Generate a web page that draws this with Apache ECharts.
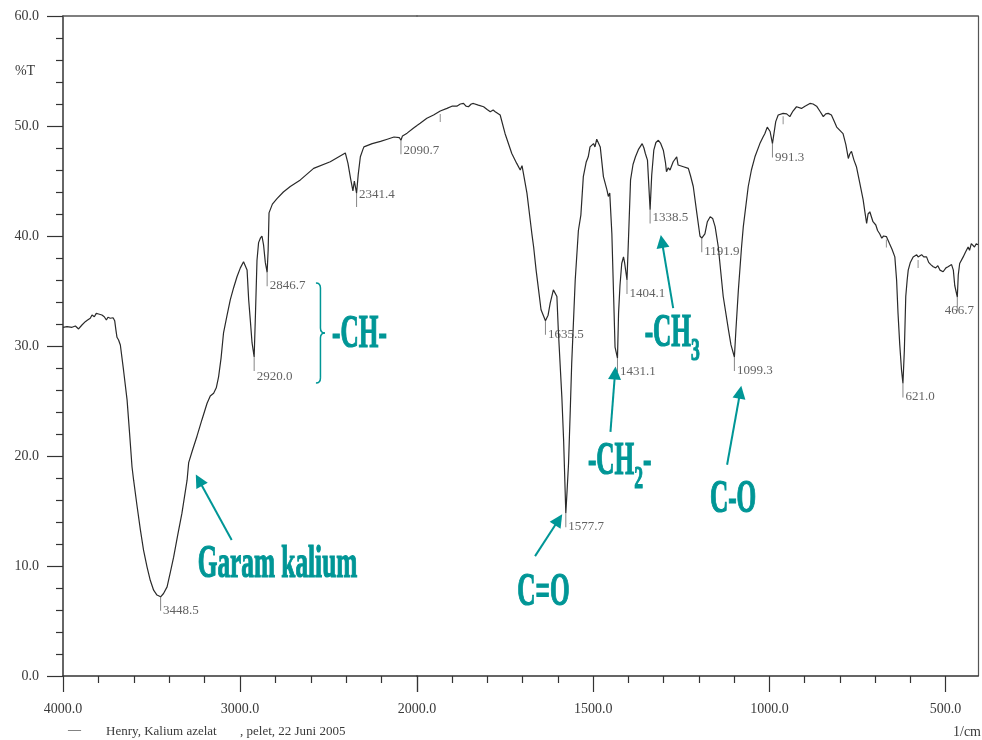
<!DOCTYPE html>
<html>
<head>
<meta charset="utf-8">
<script src="https://cdn.jsdelivr.net/npm/echarts@6/dist/echarts.min.js"></script>
<style>
  html, body { margin: 0; padding: 0; background: #ffffff; }
  #chart { width: 982px; height: 740px; }
</style>
</head>
<body>
<div id="chart"></div>
<script>
// IR spectrum of potassium azelate (KBr pellet). Wavenumbers in 1/cm, transmittance in %T.
// The instrument changes its abscissa scale at 2000 1/cm, so the trace is split in two panels.

// 4000 - 2000 1/cm
const wnHigh = [4000, 3977, 3949, 3930, 3912, 3893, 3874, 3861, 3846, 3836, 3823, 3812, 3799, 3789, 3780,
  3767, 3755, 3746, 3733, 3717, 3708, 3701, 3695, 3686, 3676, 3658, 3638, 3624, 3610, 3601, 3582, 3563,
  3545, 3525, 3507, 3488, 3469, 3448.5, 3432, 3412, 3394, 3375, 3352, 3328, 3299, 3290, 3269, 3243, 3215,
  3186, 3168, 3149, 3134, 3121, 3107, 3093, 3073, 3055, 3036, 3017, 2998, 2980, 2970, 2960, 2951, 2942,
  2932, 2920, 2913, 2904, 2895, 2885, 2876, 2867, 2857, 2846.7, 2841, 2836, 2817, 2791, 2755, 2716, 2659,
  2584, 2490, 2405, 2400, 2390, 2375, 2362, 2354, 2341.4, 2332, 2320, 2305, 2300, 2253, 2206, 2168, 2130,
  2100, 2090.7, 2082, 2056, 2021, 2000];
const tHigh = [31.7, 31.76, 31.7, 31.82, 31.55, 31.91, 32.21, 32.36, 32.52, 32.82, 32.66, 32.97, 32.91, 33.03, 32.82,
  32.66, 32.36, 32.61, 32.52, 32.57, 32.3, 31.45, 30.79, 30.55, 30.09, 27.8, 25.1, 22.1, 19.0, 17.8, 15.5, 13.3,
  11.45, 9.9, 8.7, 7.8, 7.36, 7.2, 7.5, 8.1, 9.4, 10.8, 12.8, 14.8, 17.8, 19.4, 20.5, 21.8, 23.3,
  24.8, 25.45, 25.7, 26.2, 27.2, 28.9, 31.2, 32.8, 34.2, 35.3, 36.3, 37.1, 37.66, 37.5, 36.9, 34.2, 32.4,
  30.3, 29.0, 32.7, 37.8, 39.4, 39.8, 40.0, 39.2, 37.6, 36.7, 38.7, 42.1, 42.9, 43.4, 44.0, 44.5, 45.1,
  46.15, 46.75, 47.55, 47.6, 46.6, 45.2, 44.1, 45.0, 43.9, 45.6, 47.2, 47.9, 48.1, 48.4, 48.6, 48.8, 49.0,
  48.95, 48.7, 49.1, 49.35, 49.8, 50.05];

// 2000 - 408 1/cm
const wnLow = [2000, 1991, 1972, 1953, 1934, 1915, 1901, 1887, 1877, 1868, 1861, 1854, 1846, 1840, 1826,
  1811, 1801, 1792, 1784, 1778, 1764, 1750, 1731, 1717, 1707, 1702, 1698, 1688, 1674, 1669, 1662, 1655,
  1648, 1635.5, 1628, 1622, 1613, 1608, 1603, 1599, 1589, 1584, 1577.7, 1574, 1570, 1565, 1561, 1551,
  1542, 1535, 1528, 1520, 1514, 1509, 1504, 1499, 1495, 1490, 1480, 1471, 1461, 1457, 1453, 1447, 1442,
  1438, 1431.1, 1428, 1424, 1419, 1414, 1411, 1404.1, 1399, 1394, 1387, 1380, 1371, 1361, 1356, 1352,
  1346, 1338.5, 1334, 1328, 1322, 1315, 1309, 1301, 1295, 1292, 1287, 1282, 1273, 1263, 1259, 1254,
  1244, 1230, 1224, 1216, 1206, 1197, 1191.9, 1187, 1183, 1176, 1168, 1161, 1154, 1145, 1131, 1116,
  1109, 1099.3, 1095, 1088, 1079, 1074, 1060, 1051, 1041, 1027, 1018, 1013, 1006, 998, 991.3, 982,
  975, 961, 951, 942, 933, 923, 909, 899, 885, 876, 866, 857, 847, 840, 833, 824, 817, 809, 800, 791,
  783, 776, 772, 767, 760, 753, 744, 734, 729, 724, 720, 715, 711, 706, 698, 693, 687, 681, 676, 668,
  663, 659, 652, 644, 639, 635, 630, 625, 621, 617, 613, 609, 606, 600, 592, 582, 578, 568, 562, 554,
  548, 542, 535, 528, 522, 516, 507, 499, 493, 483, 478, 474, 466.7, 464, 460, 450, 444, 436, 432, 427,
  422, 418, 413, 408];
const tLow = [50.05, 50.25, 50.7, 51.0, 51.36, 51.6, 51.8, 51.8, 52.0, 52.05, 51.8, 51.75, 52.0, 52.05, 51.9,
  51.75, 51.5, 51.3, 51.45, 51.3, 51.0, 49.3, 47.5, 46.6, 46.0, 46.4, 45.7, 43.9, 40.2, 39.0, 36.9, 35.1,
  33.3, 32.3, 32.8, 33.9, 35.1, 35.0, 34.5, 31.45, 25.4, 21.5, 14.8, 16.9, 19.3, 24.2, 28.4, 36.0,
  40.5, 41.9, 45.4, 46.7, 47.2, 48.1, 48.0, 48.4, 48.1, 48.8, 48.1, 45.4, 44.2, 43.6, 43.9, 40.2, 34.5,
  29.9, 28.9, 33.0, 35.5, 37.5, 38.1, 37.6, 36.0, 40.5, 45.1, 46.5, 47.2, 47.9, 48.4, 48.0, 47.5,
  46.9, 42.4, 45.5, 47.8, 48.5, 48.7, 48.45, 47.8, 46.7, 45.85, 46.2, 46.0, 46.75, 47.2, 46.45, 46.6,
  46.3, 46.15, 45.5, 44.5, 42.1, 40.0, 39.8, 39.9, 40.2, 41.3, 41.75, 41.6, 40.85, 39.0, 34.5, 31.45,
  30.1, 29.0, 31.45, 35.1, 39.0, 40.85, 44.5, 46.0, 47.2, 48.4, 49.0, 49.3, 49.9, 49.5, 48.4, 50.4,
  51.0, 51.15, 51.1, 50.85, 51.36, 51.75, 51.6, 51.8, 52.05, 52.0, 51.8, 51.36, 50.85, 51.1, 51.15, 51.0, 50.5, 49.9, 49.6, 49.3,
  48.3, 47.05, 47.45, 47.7, 46.9, 46.3, 44.9, 43.3, 42.2, 41.15, 42.0, 42.2, 41.8, 41.3, 41.0, 40.5, 40.2, 39.8, 40.0, 39.95,
  39.6, 39.3, 38.8, 38.1, 36.0, 33.0, 30.1, 27.8, 26.6, 29.6, 34.5, 36.0, 36.9, 37.6, 38.1, 38.3, 38.1, 38.3, 38.1, 38.1,
  37.6, 37.4, 37.2, 37.1, 37.3, 36.9, 36.75, 37.1, 37.2, 37.4, 36.9, 35.5, 34.45, 36.45, 37.5, 38.1, 38.5, 39.0, 38.7, 39.3,
  39.35, 39.0, 39.3, 39.2];

// Labelled absorption bands
const peaksHigh = [3448.5, 2920.0, 2846.7, 2341.4, 2090.7];
const peaksLow = [1635.5, 1577.7, 1431.1, 1404.1, 1338.5, 1191.9, 1099.3, 991.3, 621.0, 466.7];
// Bands picked by the instrument but printed without a value
const marksLow = [1934, 961, 668, 578];

// Axis ticks
const yTicks = [0, 10, 20, 30, 40, 50, 60];
const xMajorLow = [2000, 1500, 1000, 500];
const xLabelsLow = [1500, 1000, 500];
const xMinorLow = [1900, 1800, 1700, 1600, 1400, 1300, 1200, 1100, 900, 800, 700, 600];

// Band assignments: [text, anchor wavenumber, anchor %T]
const bandNotes = [
  ['Garam kalium', 2788, 10.05],
  ['C=O', 1641, 7.5],
  ['C-O', 1103, 15.95]
];
// Arrows: [from wavenumber, from %T, to wavenumber, to %T]
const arrowsHigh = [[3047, 12.36, 3232, 17.8]];
const arrowsLow = [
  [1665, 10.9, 1598, 14.2],
  [1451, 22.2, 1438, 27.55],
  [1273, 33.45, 1305, 39.5],
  [1120, 19.2, 1083, 25.8]
];

const TEAL = '#009696';
const INK = '#2a2a2a';
const LABEL = '#3a3a3a';
const SERIF = '"Liberation Serif", "Times New Roman", serif';

// Label placement tweaks (pixels) for crowded bands
const labelNudge = { 2920: [0, 6], 2341.4: [0, -12], 1338.5: [0, -6], 466.7: [-15, 0], 2090.7: [0, -3] };

const pair = (xs, ys) => xs.map((x, i) => [x, ys[i]]);
const lookup = (xs, ys, w) => ys[xs.indexOf(w)];

const peakSeries = (xs, ys, list, axis) => ({
  type: 'scatter',
  xAxisIndex: axis, yAxisIndex: axis,
  silent: true,
  symbol: 'rect',
  symbolSize: [1, 14],
  symbolOffset: [0, 7],
  itemStyle: { color: '#666' },
  data: list.map(w => {
    const d = labelNudge[w] || [0, 0];
    return { value: [w, lookup(xs, ys, w)], label: { position: [3 + d[0], 7 + d[1]] } };
  }),
  label: {
    show: true,
    align: 'left',
    verticalAlign: 'top',
    formatter: p => p.value[0].toFixed(1),
    fontFamily: SERIF, fontSize: 13, color: LABEL
  },
  z: 4
});

const markSeries = (xs, ys, list, axis) => ({
  type: 'scatter',
  xAxisIndex: axis, yAxisIndex: axis,
  silent: true,
  symbol: 'rect',
  symbolSize: [1, 8],
  symbolOffset: [0, 7],
  itemStyle: { color: '#777' },
  data: list.map(w => [w, lookup(xs, ys, w)]),
  z: 4
});

const arrowMarks = list => ({
  silent: true,
  symbol: ['none', 'triangle'],
  symbolSize: 13,
  label: { show: false },
  lineStyle: { color: TEAL, width: 2, type: 'solid' },
  itemStyle: { color: TEAL },
  emphasis: { disabled: true },
  data: list.map(a => [{ coord: [a[0], a[1]] }, { coord: [a[2], a[3]] }])
});

const frameLine = { show: true, lineStyle: { color: '#555', width: 1.5 } };
const noTick = { show: false };

const option = {
  animation: false,
  backgroundColor: '#ffffff',
  grid: [
    { left: 63, top: 16, width: 354, height: 660, show: false },
    { left: 417, top: 16, width: 561, height: 660, show: false }
  ],
  xAxis: [
    {
      gridIndex: 0, type: 'value', position: 'bottom', inverse: true,
      min: 2000, max: 4000, interval: 1000,
      axisLine: { show: true, onZero: false, lineStyle: { color: '#333', width: 1.5 } },
      axisTick: { show: true, length: 16, lineStyle: { color: '#333', width: 1.2 } },
      minorTick: { show: true, splitNumber: 5, length: 7, lineStyle: { color: '#333', width: 1.2 } },
      axisLabel: { margin: 26, fontFamily: SERIF, fontSize: 14, color: LABEL, formatter: v => v.toFixed(1) },
      splitLine: { show: false }
    },
    {
      gridIndex: 1, type: 'value', position: 'bottom', inverse: true,
      min: 408, max: 2000,
      axisLine: { show: true, onZero: false, lineStyle: { color: '#333', width: 1.5 } },
      axisTick: { show: true, length: 16, customValues: xMajorLow, lineStyle: { color: '#333', width: 1.2 } },
      axisLabel: { margin: 26, customValues: xLabelsLow, fontFamily: SERIF, fontSize: 14, color: LABEL, formatter: v => v.toFixed(1) },
      splitLine: { show: false }
    },
    {
      gridIndex: 1, type: 'value', position: 'bottom', inverse: true,
      min: 408, max: 2000,
      axisLine: { show: false, onZero: false },
      axisTick: { show: true, length: 7, customValues: xMinorLow, lineStyle: { color: '#333', width: 1.2 } },
      axisLabel: { show: false },
      splitLine: { show: false }
    },
    {
      gridIndex: 0, type: 'value', position: 'top', inverse: true, min: 2000, max: 4000,
      axisLine: { ...frameLine, onZero: false }, axisTick: noTick, axisLabel: { show: false }, splitLine: { show: false }
    },
    {
      gridIndex: 1, type: 'value', position: 'top', inverse: true, min: 408, max: 2000,
      axisLine: { ...frameLine, onZero: false }, axisTick: noTick, axisLabel: { show: false }, splitLine: { show: false }
    }
  ],
  yAxis: [
    {
      gridIndex: 0, type: 'value', position: 'left',
      min: yTicks[0], max: yTicks[yTicks.length - 1], interval: 10,
      axisLine: { show: true, onZero: false, lineStyle: { color: '#333', width: 1.5 } },
      axisTick: { show: true, length: 16, lineStyle: { color: '#333', width: 1.2 } },
      minorTick: { show: true, splitNumber: 5, length: 7, lineStyle: { color: '#333', width: 1.2 } },
      axisLabel: { margin: 24, fontFamily: SERIF, fontSize: 14, color: LABEL, formatter: v => v.toFixed(1) },
      splitLine: { show: false }
    },
    {
      gridIndex: 1, type: 'value', position: 'right',
      min: yTicks[0], max: yTicks[yTicks.length - 1],
      axisLine: { show: true, onZero: false, lineStyle: { color: '#555', width: 1.2 } },
      axisTick: noTick, axisLabel: { show: false }, splitLine: { show: false }
    }
  ],
  series: [
    {
      type: 'line', xAxisIndex: 0, yAxisIndex: 0, silent: true,
      data: pair(wnHigh, tHigh), showSymbol: false, symbol: 'none',
      lineStyle: { color: INK, width: 1.2 },
      markLine: arrowMarks(arrowsHigh), z: 3
    },
    {
      type: 'line', xAxisIndex: 1, yAxisIndex: 1, silent: true,
      data: pair(wnLow, tLow), showSymbol: false, symbol: 'none',
      lineStyle: { color: INK, width: 1.2 },
      markLine: arrowMarks(arrowsLow), z: 3
    },
    peakSeries(wnHigh, tHigh, peaksHigh, 0),
    peakSeries(wnLow, tLow, peaksLow, 1),
    markSeries(wnLow, tLow, marksLow, 1)
  ]
};

const chart = echarts.init(document.getElementById('chart'), null, { renderer: 'canvas' });
chart.setOption(option);

// Annotations are anchored in data space and converted to pixels.
const toPx = (seriesIndex, wn, t) => chart.convertToPixel({ seriesIndex: seriesIndex }, [wn, t]);
const BOLD = 'bold 46px "Liberation Serif", "Times New Roman", serif';
const SQUEEZE = 0.55;
const tealStyle = (text, font, align) => ({
  text: text, font: font, fill: TEAL, stroke: TEAL, lineWidth: 1.2,
  align: align, textAlign: align, verticalAlign: 'middle', textVerticalAlign: 'middle'
});

const bigText = (text, p, align) => ({
  type: 'group', x: p[0], y: p[1], scaleX: SQUEEZE,
  children: [{ type: 'text', style: tealStyle(text, BOLD, align) }]
});

// Text with a subscript digit, e.g. -CH2-
const subText = (head, sub, tail, p) => {
  const headW = 84.3;
  const subW = 16;
  const kids = [
    { type: 'text', style: tealStyle(head, BOLD, 'left') },
    { type: 'text', x: headW, y: 18, style: tealStyle(sub, 'bold 32px "Liberation Serif", serif', 'left') }
  ];
  if (tail) {
    kids.push({ type: 'text', x: headW + subW, style: tealStyle(tail, BOLD, 'left') });
  }
  return { type: 'group', x: p[0], y: p[1], scaleX: SQUEEZE, children: kids };
};

const g = [];
g.push(bigText(bandNotes[0][0], toPx(0, bandNotes[0][1], bandNotes[0][2]), 'center'));
g.push(bigText(bandNotes[1][0], toPx(1, bandNotes[1][1], bandNotes[1][2]), 'center'));
g.push(bigText(bandNotes[2][0], toPx(1, bandNotes[2][1], bandNotes[2][2]), 'center'));
g.push(bigText('-CH-', toPx(0, 2325, 31.0), 'center'));
g.push(subText('-CH', '2', '-', toPx(1, 1515, 19.45)));
g.push(subText('-CH', '3', null, toPx(1, 1354, 31.09)));

// Curly brace grouping the two C-H stretching bands
(function () {
  const top = toPx(0, 2571, 35.73);
  const mid = toPx(0, 2520, 31.18);
  const bot = toPx(0, 2571, 26.64);
  const x0 = top[0], xc = (top[0] + mid[0]) / 2, xt = mid[0];
  const r = 5;
  const st = { stroke: TEAL, lineWidth: 1.5, fill: 'none' };
  g.push({ type: 'bezierCurve', shape: { x1: x0, y1: top[1], cpx1: xc, cpy1: top[1], x2: xc, y2: top[1] + r }, style: st });
  g.push({ type: 'line', shape: { x1: xc, y1: top[1] + r, x2: xc, y2: mid[1] - r }, style: st });
  g.push({ type: 'bezierCurve', shape: { x1: xc, y1: mid[1] - r, cpx1: xc, cpy1: mid[1], x2: xt, y2: mid[1] }, style: st });
  g.push({ type: 'bezierCurve', shape: { x1: xt, y1: mid[1], cpx1: xc, cpy1: mid[1], x2: xc, y2: mid[1] + r }, style: st });
  g.push({ type: 'line', shape: { x1: xc, y1: mid[1] + r, x2: xc, y2: bot[1] - r }, style: st });
  g.push({ type: 'bezierCurve', shape: { x1: xc, y1: bot[1] - r, cpx1: xc, cpy1: bot[1], x2: x0, y2: bot[1] }, style: st });
})();

// Axis titles and sample caption
const small = (text, x, y, align, size) => ({
  type: 'text', x: x, y: y,
  style: { text: text, font: (size || 13) + 'px ' + SERIF, fill: LABEL, align: align, textAlign: align, verticalAlign: 'middle', textVerticalAlign: 'middle' }
});
g.push(small('%T', 25, 71, 'center', 14));
g.push(small('1/cm', 981, 732, 'right', 14));
g.push(small('\u2014', 68, 730, 'left', 13));
g.push(small('Henry, Kalium azelat', 106, 732, 'left', 13));
g.push(small(', pelet, 22 Juni 2005', 240, 732, 'left', 13));

chart.setOption({ graphic: { elements: g } });
</script>
</body>
</html>
